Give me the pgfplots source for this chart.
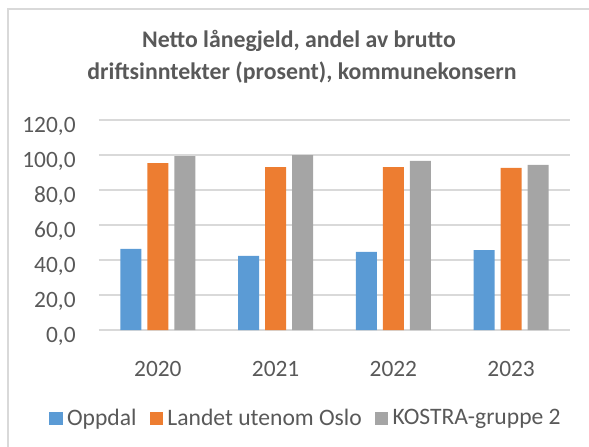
\documentclass[border=0pt]{standalone}
\usepackage{pgfplots}
\pgfplotsset{compat=1.18}
\usepackage{fontspec}
\setmainfont{Carlito}
\definecolor{oppdal}{RGB}{91,155,213}
\definecolor{landet}{RGB}{237,125,49}
\definecolor{kostra}{RGB}{165,165,165}
\definecolor{txt}{RGB}{89,89,89}
\definecolor{gridgray}{RGB}{217,217,217}
\begin{document}
\begin{tikzpicture}[x=1pt,y=1pt]
\useasboundingbox (0,0) rectangle (294.5,223);
\draw[gridgray, line width=0.75pt] (4,-10) rectangle (310,218.5);
\node[anchor=base, text=txt, font=\bfseries\fontsize{11.9}{14}\selectfont] at (149.5,199.5) {Netto lånegjeld, andel av brutto};
\node[anchor=base, text=txt, font=\bfseries\fontsize{11.9}{14}\selectfont] at (151,183.5) {driftsinntekter (prosent), kommunekonsern};
\begin{axis}[
at={(49.5pt,58pt)}, anchor=south west,
scale only axis, width=235.5pt, height=105pt,
xmin=-0.5, xmax=3.5, ymin=0, ymax=120,
xtick={0,1,2,3}, xticklabels={2020,2021,2022,2023},
ytick={0,20,...,120},
axis line style={draw=none},
tick style={draw=none},
xmajorgrids=false, ymajorgrids=true,
major grid style={draw=gridgray, line width=1pt},
ybar=3pt, bar width=10.5pt,
tick label style={text=txt, font=\fontsize{11.7}{13}\selectfont},
/pgf/number format/.cd, fixed, fixed zerofill, precision=1, use comma, assume math mode=true,
/pgfplots/.cd,
yticklabel style={anchor=base east, inner sep=0pt, xshift=-11.5pt, yshift=-6.2pt},
xticklabel style={anchor=base, inner sep=0pt, yshift=-18.8pt},
legend style={at={(0.4395,-0.422)}, anchor=center, draw=none, fill=none,
  legend columns=-1, text=txt, font=\fontsize{11.8}{13}\selectfont,
  nodes={inner xsep=1pt},
  /tikz/every odd column/.append style={column sep=1.2pt},
  /tikz/every even column/.append style={column sep=5.5pt}},
legend image code/.code={\fill[#1] (0pt,-3.35pt) rectangle (6.7pt,3.35pt);},
]
\addplot[fill=oppdal, draw=none] coordinates {(0,46.3) (1,42.3) (2,44.6) (3,45.7)};
\addplot[fill=landet, draw=none] coordinates {(0,95.4) (1,93.1) (2,93.1) (3,92.6)};
\addplot[fill=kostra, draw=none] coordinates {(0,99.4) (1,100.0) (2,96.6) (3,94.3)};
\legend{Oppdal, Landet utenom Oslo, KOSTRA-gruppe 2}
\end{axis}
\end{tikzpicture}
\end{document}
